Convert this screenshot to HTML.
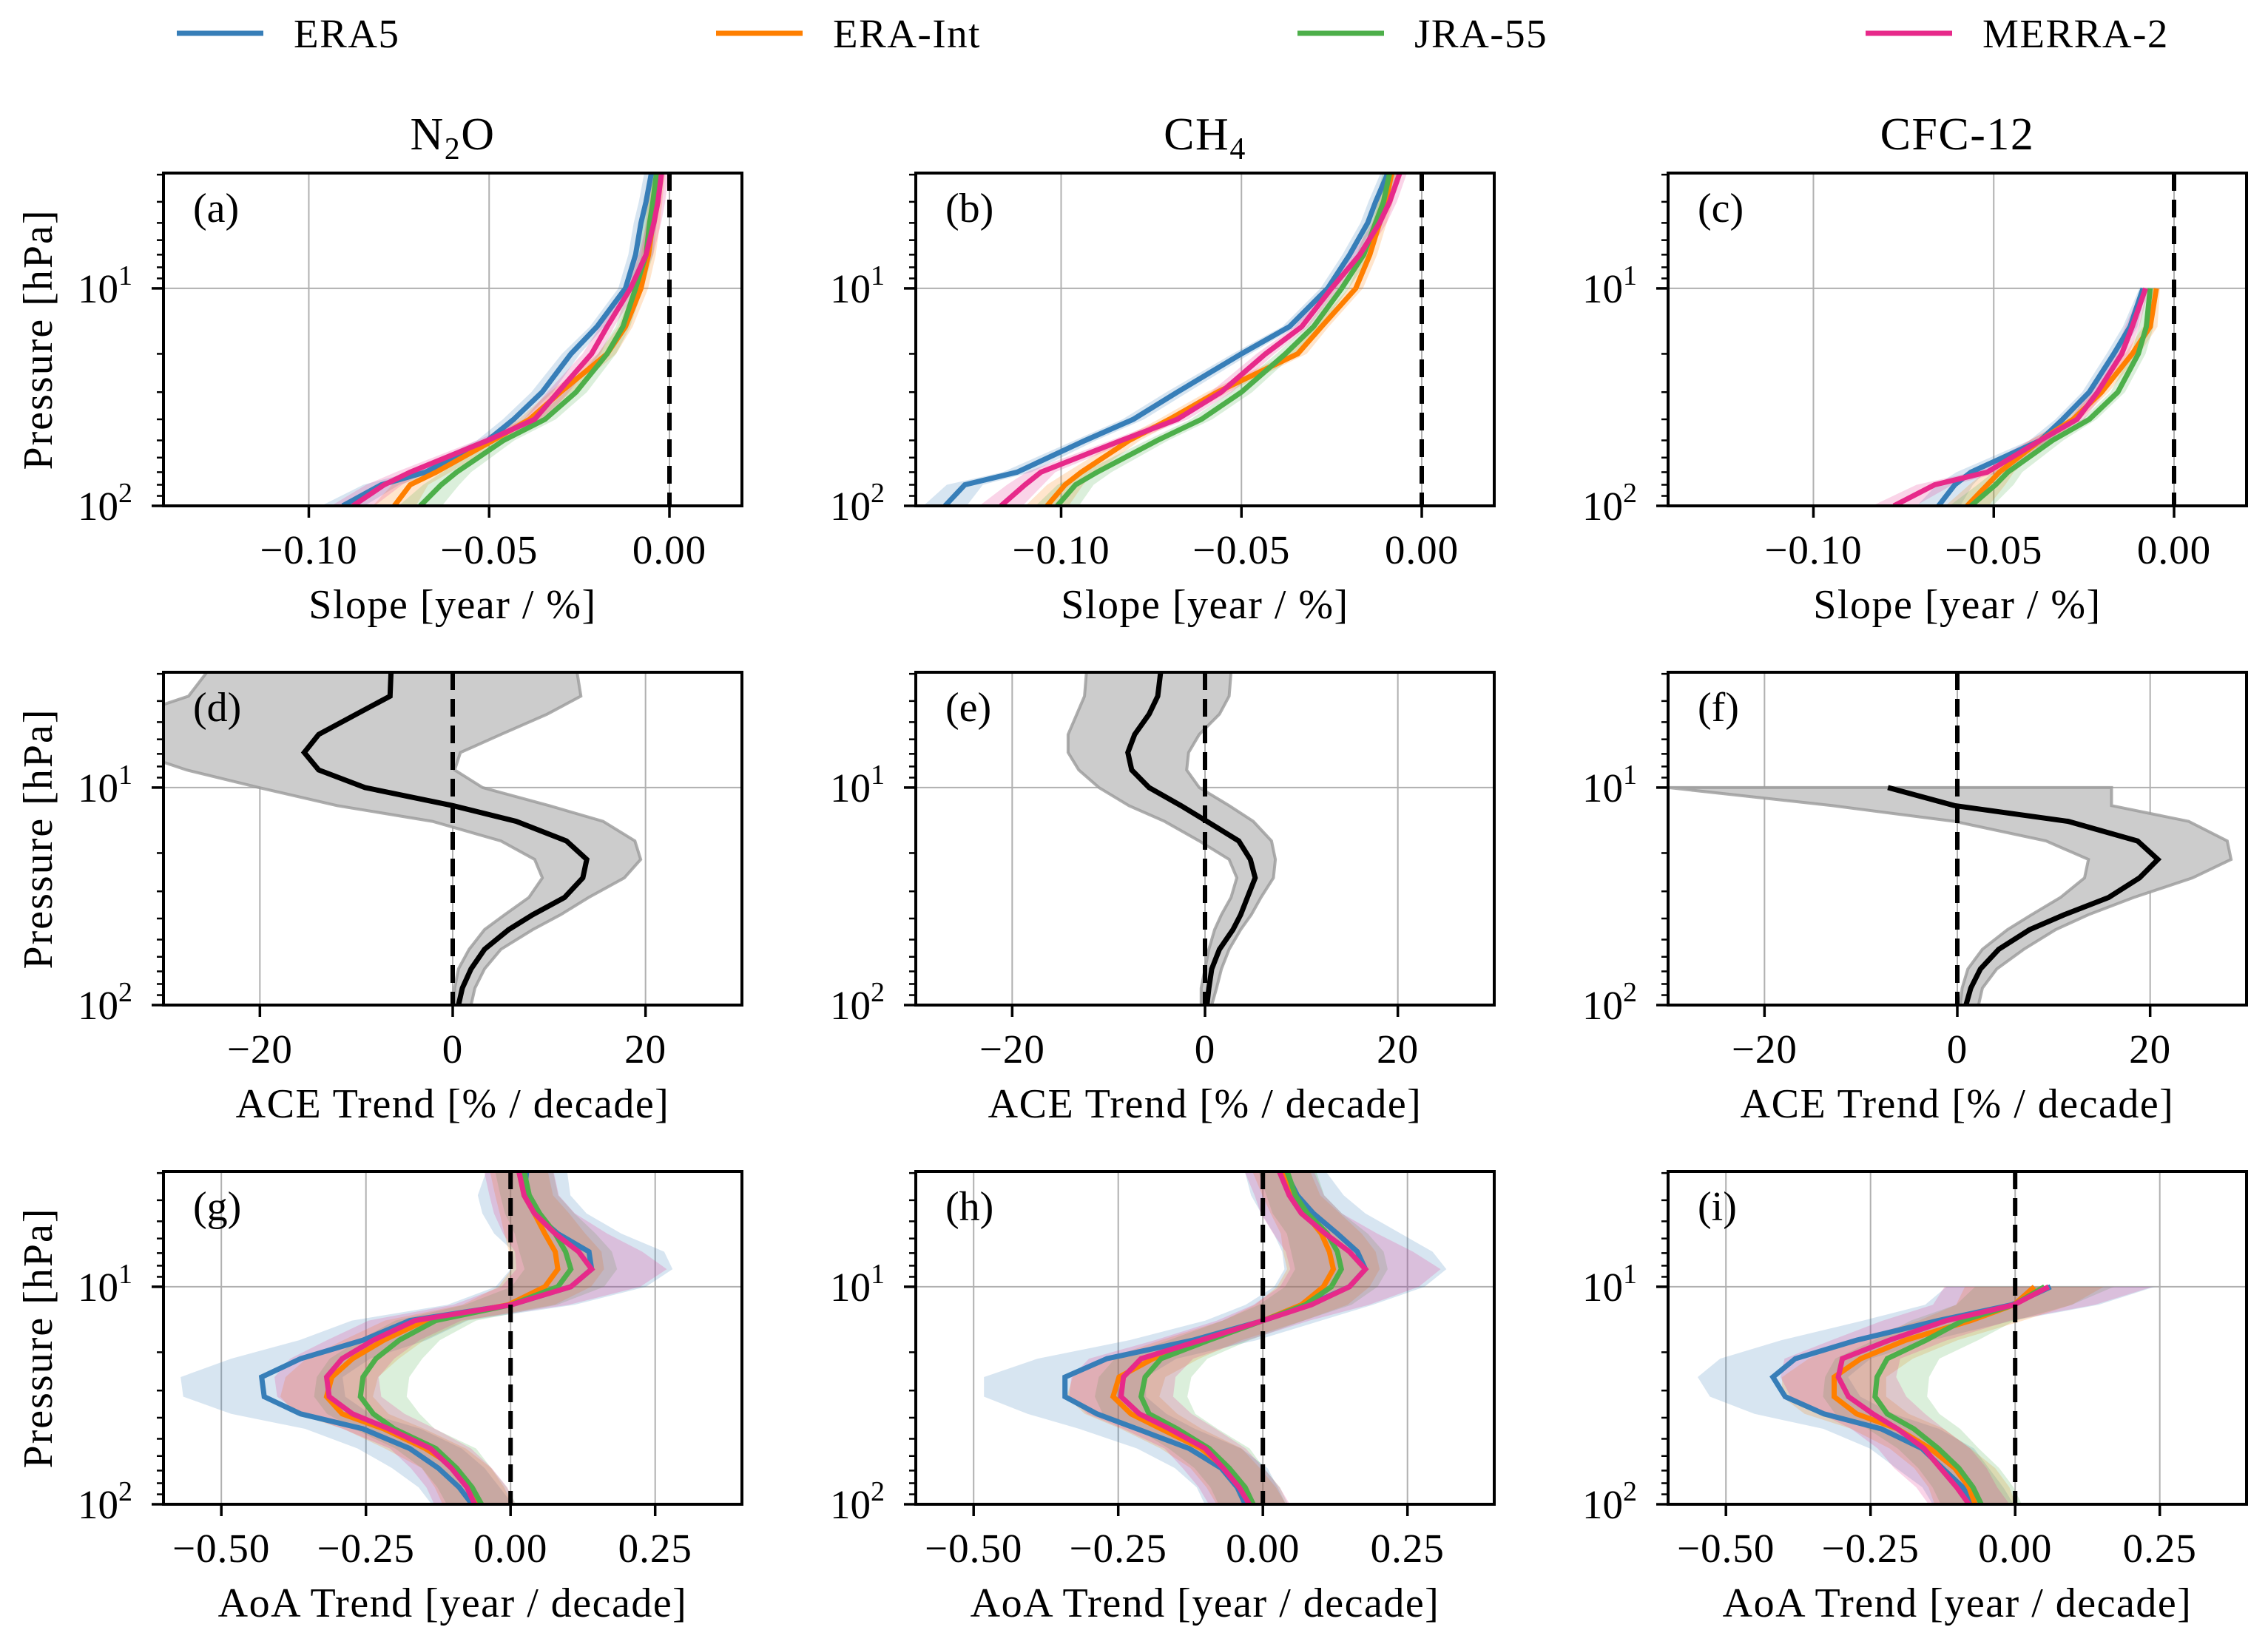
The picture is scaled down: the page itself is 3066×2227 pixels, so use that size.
<!DOCTYPE html>
<html><head><meta charset="utf-8">
<style>
html,body{margin:0;padding:0;background:#fff;}
svg{display:block;font-family:"Liberation Serif","DejaVu Serif",serif;}
</style></head>
<body>
<svg id="fig" width="3066" height="2227" viewBox="0 0 3066 2227" xmlns="http://www.w3.org/2000/svg"></svg>
<script>
// ---------- data ----------
const seriesNames = ["ERA5","ERA-Int","JRA-55","MERRA-2"];
const seriesColors = ["#377eb8","#ff7f00","#4daf4a","#e7298a"];
const columnTitles = ["N2O","CH4","CFC-12"];
const panelLetters = ["(a)","(b)","(c)","(d)","(e)","(f)","(g)","(h)","(i)"];

const levelsSlope = [2.95,4,5,7,10,15,20,30,40,50,70,80,100];
const levelsSlopeC = [10,15,20,30,40,50,70,80,100];
const levelsTrend = [2.95,3.8,4.6,5.7,6.9,8.3,10,12.1,14.3,17.6,21.4,26,32,38.4,45,55.4,68.2,83.6,100];
const levelsTrendLow = [10,12.1,14.3,17.6,21.4,26,32,38.4,45,55.4,68.2,83.6,100];

const slopeTicks = [-0.10,-0.05,0.00];
const slopeTickLabels = ["\u22120.10","\u22120.05","0.00"];
const aceTicks = [-20,0,20];
const aceTickLabels = ["\u221220","0","20"];
const aoaTicks = [-0.5,-0.25,0,0.25];
const aoaTickLabels = ["\u22120.50","\u22120.25","0.00","0.25"];

// (a) N2O slope
const slopeA_era5 = [-0.005,-0.0065,-0.0079,-0.0094,-0.0122,-0.0201,-0.0273,-0.0353,-0.0432,-0.0504,-0.0676,-0.0799,-0.0906];
const slopeA_erai = [-0.0032,-0.004,-0.0046,-0.0058,-0.0079,-0.0122,-0.0173,-0.0302,-0.0388,-0.0489,-0.0647,-0.0719,-0.0763];
const slopeA_jra = [-0.0036,-0.0046,-0.0055,-0.0065,-0.0094,-0.0129,-0.0173,-0.0259,-0.0345,-0.046,-0.059,-0.0633,-0.0691];
const slopeA_merra = [-0.0022,-0.0032,-0.0043,-0.0065,-0.0108,-0.0173,-0.0216,-0.0309,-0.0374,-0.0504,-0.0719,-0.0791,-0.0878];
// (b) CH4 slope
const slopeB_era5 = [-0.0094,-0.0128,-0.015,-0.020,-0.0261,-0.0367,-0.050,-0.0678,-0.080,-0.0933,-0.1122,-0.1267,-0.1322];
const slopeB_erai = [-0.0083,-0.010,-0.0117,-0.0144,-0.0183,-0.0278,-0.0344,-0.0567,-0.070,-0.0811,-0.0944,-0.0989,-0.1039];
const slopeB_jra = [-0.0089,-0.0106,-0.0128,-0.0161,-0.0222,-0.030,-0.0378,-0.050,-0.0611,-0.0733,-0.090,-0.096,-0.1011];
const slopeB_merra = [-0.0061,-0.0089,-0.0117,-0.0172,-0.025,-0.0333,-0.0433,-0.0556,-0.0678,-0.0833,-0.1056,-0.110,-0.1167];
// (c) CFC-12 slope
const slopeC_era5 = [-0.0086,-0.0122,-0.0167,-0.0235,-0.0309,-0.0371,-0.0563,-0.0608,-0.0653];
const slopeC_erai = [-0.0049,-0.0066,-0.0116,-0.0201,-0.028,-0.0371,-0.0484,-0.0518,-0.0574];
const slopeC_jra = [-0.0066,-0.0077,-0.0099,-0.0156,-0.0235,-0.0337,-0.0461,-0.0495,-0.0563];
const slopeC_merra = [-0.0079,-0.0116,-0.0145,-0.0212,-0.0269,-0.0371,-0.0518,-0.0664,-0.0777];
const slopeErr = [0.002,0.002,0.002,0.002,0.002,0.002,0.0025,0.003,0.003,0.003,0.004,0.005,0.006];
const slopeErrC = [0.001,0.002,0.002,0.002,0.002,0.003,0.004,0.005,0.006];

// (d)(e)(f) ACE trends
const aceD_mean = [-6.4,-6.5,-10.0,-13.9,-15.4,-13.9,-9.1,0,6.6,11.8,13.9,13.5,11.6,8.3,5.8,3.3,1.9,1.0,0.6];
const aceD_low = [-25.5,-27.4,-33,-34,-33,-27.6,-20.1,-12,-2.1,5.0,8.5,9.3,7.9,5.4,3.3,1.7,0.6,0.2,0.2];
const aceD_high = [12.9,13.3,9.8,5.0,0.8,0.2,3.1,10,15.6,18.9,19.5,17.8,14.1,11.2,8.3,5.0,3.3,2.3,1.9];
const aceE_mean = [-4.6,-4.9,-5.8,-7.3,-8.0,-7.6,-5.8,-2.5,0.2,3.5,4.7,5.2,4.4,3.7,2.9,1.5,0.7,0.4,0.2];
const aceE_low = [-12.3,-12.5,-13.3,-14.2,-14.2,-13.1,-11.0,-7.9,-4.2,-0.6,2.5,3.3,2.7,1.7,1.0,0.4,0,-0.4,-0.4];
const aceE_high = [2.7,2.5,1.5,-0.6,-1.7,-1.9,-0.6,2.5,5.0,6.9,7.3,7.1,5.8,4.8,3.7,2.5,1.7,1.2,0.7];
const aceF_mean = [-7.2,-0.3,11.5,18.7,20.8,18.9,15.7,11.1,7.5,4.3,2.4,1.4,0.9];
const aceF_low = [-30,-13,-0.3,9.2,13.6,13.2,10.7,7.7,5.2,2.6,1.1,0.5,0.3];
const aceF_high = [16.0,16.0,24.0,28.0,28.4,24.4,18.3,13.6,10.2,6.9,4.1,2.6,2.2];

// (g)(h)(i) AoA trends
const aoaG_era5 = [.0278,.0234,.0413,.0817,.1356,.1401,.1042,.0009,-.1743,-.2551,-.3629,-.4303,-.4258,-.3629,-.2551,-.1743,-.1249,-.0889,-.0665];
const aoaG_erai = [.0144,.0234,.0413,.0593,.0772,.0817,.0593,-.0036,-.1473,-.2192,-.2731,-.3090,-.3180,-.2910,-.2192,-.1473,-.0934,-.0710,-.0575];
const aoaG_jra = [.0234,.0323,.0503,.0772,.0952,.1042,.0817,.0009,-.1294,-.1923,-.2327,-.2551,-.2596,-.2372,-.2012,-.1294,-.0934,-.0665,-.0503];
const aoaG_merra = [.0144,.0234,.0413,.0772,.1177,.1401,.1042,.0009,-.1653,-.2372,-.2910,-.3180,-.3135,-.2731,-.2102,-.1383,-.1024,-.0755,-.0620];
const aoaH_era5 = [.0388,.0596,.0873,.1288,.1634,.1773,.1496,.0803,.0007,-.1205,-.2694,-.3421,-.3421,-.2867,-.2175,-.1274,-.072,-.0443,-.0305];
const aoaH_erai = [.0319,.0492,.0734,.1011,.1150,.1219,.1046,.0665,.0007,-.1066,-.1898,-.2486,-.2590,-.2279,-.1759,-.1066,-.0651,-.0374,-.0201];
const aoaH_jra = [.0422,.0561,.0768,.1115,.1288,.1357,.1184,.0734,.0007,-.0928,-.1759,-.2036,-.2105,-.1967,-.1482,-.0928,-.0582,-.0305,-.0166];
const aoaH_merra = [.0284,.0457,.0665,.1080,.1496,.1773,.1496,.0838,.0007,-.1066,-.2105,-.2410,-.2451,-.2133,-.1614,-.0997,-.0686,-.0409,-.0235];
const aoaI_era5 = [.0614,-.0056,-.1328,-.2740,-.3800,-.4188,-.3976,-.3305,-.2316,-.1610,-.1257,-.0904,-.0727];
const aoaI_erai = [.0332,-.0021,-.0763,-.1893,-.2669,-.3129,-.3129,-.2740,-.2034,-.1469,-.1045,-.0798,-.0692];
const aoaI_jra = [.0508,-.0021,-.0904,-.1540,-.2211,-.2387,-.2422,-.2211,-.1752,-.1328,-.0975,-.0727,-.0586];
const aoaI_merra = [.0579,-.0021,-.1186,-.2175,-.2987,-.3058,-.2881,-.2458,-.2034,-.1575,-.1292,-.1010,-.0798];
const aoaErr_era5 = [.07,.08,.09,.11,.13,.14,.13,.11,.10,.11,.12,.14,.14,.12,.10,.09,.08,.07,.07];
const aoaErr_erai = [.05,.05,.06,.07,.08,.08,.08,.08,.07,.07,.08,.08,.08,.08,.07,.07,.06,.06,.06];
const aoaErr_jra = [.05,.05,.06,.07,.08,.08,.08,.08,.07,.07,.08,.08,.08,.08,.07,.07,.06,.06,.06];
const aoaErr_merra = [.06,.06,.07,.09,.11,.13,.12,.10,.08,.08,.09,.09,.09,.09,.08,.07,.07,.07,.07];
const aoaErrI_era5 = [.18,.15,.13,.13,.13,.13,.13,.12,.10,.09,.08,.07,.07];
const aoaErrI_erai = [.12,.10,.09,.09,.09,.09,.09,.09,.08,.07,.07,.07,.07];
const aoaErrI_jra = [.12,.10,.09,.09,.09,.09,.09,.09,.08,.07,.07,.07,.07];
const aoaErrI_merra = [.18,.14,.11,.10,.10,.10,.10,.09,.08,.08,.08,.07,.07];

// ---------- layout ----------
const NS = "http://www.w3.org/2000/svg";
const svg = document.getElementById("fig");
const colLeft = [221, 1238, 2255];
const rowTop = [234, 909, 1584];
const PW = 782, PH = 450;
const logTop = Math.log10(2.95), logBot = 2;

function mk(tag, attrs, parent) {
  const e = document.createElementNS(NS, tag);
  for (const k in attrs) e.setAttribute(k, attrs[k]);
  (parent || svg).appendChild(e);
  return e;
}

function makePanel(idx, row, col, xmin, xmax, ticks, tickLabels, xlabel, drawFn) {
  const L = colLeft[col], T = rowTop[row];
  const xs = v => L + (v - xmin) / (xmax - xmin) * PW;
  const ys = p => T + (Math.log10(p) - logTop) / (logBot - logTop) * PH;
  const g = mk("g", {});
  
  
  const cid = "clip" + idx;
  const cp = mk("clipPath", {id: cid}, g);
  mk("rect", {x: L, y: T, width: PW, height: PH}, cp);
  ticks.forEach(t => {
    const gl = mk("line", {x1: xs(t), x2: xs(t), y1: T, y2: T + PH, stroke: "#b0b0b0", "stroke-width": 2}, g);
    
    
  });
  const hg = mk("line", {x1: L, x2: L + PW, y1: ys(10), y2: ys(10), stroke: "#b0b0b0", "stroke-width": 2}, g);
  
  
  const plot = mk("g", {"clip-path": "url(#" + cid + ")"}, g);
  
  
  drawFn(plot, xs, ys);
  const z = mk("line", {x1: xs(0), x2: xs(0), y1: T, y2: T + PH, stroke: "#000", "stroke-width": 6, "stroke-dasharray": "24 12"}, plot);
  
  
  const sp = mk("rect", {x: L, y: T, width: PW, height: PH, fill: "none", stroke: "#000", "stroke-width": 4}, g);
  
  
  ticks.forEach((t, i) => {
    const tk = mk("line", {x1: xs(t), x2: xs(t), y1: T + PH, y2: T + PH + 16, stroke: "#000", "stroke-width": 3.5}, g);
    
    
    const tl = mk("text", {x: xs(t), y: T + PH + 78, "text-anchor": "middle", "font-size": 55, "letter-spacing": 1}, g);
    tl.textContent = tickLabels[i];
    
    
  });
  [3,4,5,6,7,8,9,20,30,40,50,60,70,80,90].forEach(p => {
    const tk = mk("line", {x1: L - 9, x2: L, y1: ys(p), y2: ys(p), stroke: "#000", "stroke-width": 2.5}, g);
    
    
  });
  [[10, "1"], [100, "2"]].forEach(([p, e]) => {
    const tk = mk("line", {x1: L - 16, x2: L, y1: ys(p), y2: ys(p), stroke: "#000", "stroke-width": 3.5}, g);
    
    
    const tl = mk("text", {x: L - 42, y: ys(p) + 19, "text-anchor": "end", "font-size": 55}, g);
    
    
    const base = mk("tspan", {}, tl); base.textContent = "10";
    const sup = mk("tspan", {dy: -24, "font-size": 38}, tl); sup.textContent = e;
  });
  const pl = mk("text", {x: L + 40, y: T + 66, "font-size": 56}, g);
  pl.textContent = panelLetters[idx];
  
  
  const xl = mk("text", {x: L + PW / 2, y: T + PH + 152, "text-anchor": "middle", "font-size": 56, "letter-spacing": 1.5}, g);
  xl.textContent = xlabel;
  
  
  if (col === 0) {
    const yl = mk("text", {x: 0, y: 0, "text-anchor": "middle", "font-size": 56, "letter-spacing": 2, transform: "translate(70," + (T + PH / 2) + ") rotate(-90)"}, g);
    yl.textContent = "Pressure [hPa]";
    
    
  }
}

function pathD(xsArr, levels, xs, ys) {
  return levels.map((p, i) => (i ? "L" : "M") + xs(xsArr[i]).toFixed(1) + "," + ys(p).toFixed(1)).join("");
}
function bandD(lo, hi, levels, xs, ys) {
  let d = levels.map((p, i) => (i ? "L" : "M") + xs(lo[i]).toFixed(1) + "," + ys(p).toFixed(1)).join("");
  for (let i = levels.length - 1; i >= 0; i--) d += "L" + xs(hi[i]).toFixed(1) + "," + ys(levels[i]).toFixed(1);
  return d + "Z";
}

function drawReanalysis(seriesList, errList, levels, alpha) {
  return function (plot, xs, ys) {
    seriesList.forEach((s, k) => {
      const lo = s.map((v, i) => v - errList[k][i]);
      const hi = s.map((v, i) => v + errList[k][i]);
      const b = mk("path", {d: bandD(lo, hi, levels, xs, ys), fill: seriesColors[k], "fill-opacity": alpha, stroke: "none"}, plot);
      
      
    });
    seriesList.forEach((s, k) => {
      const l = mk("path", {d: pathD(s, levels, xs, ys), fill: "none", stroke: seriesColors[k], "stroke-width": 7, "stroke-linejoin": "miter"}, plot);
      
      
    });
  };
}
function drawAce(mean, lo, hi, levels) {
  return function (plot, xs, ys) {
    const b = mk("path", {d: bandD(lo, hi, levels, xs, ys), fill: "#cccccc", stroke: "#9a9a9a", "stroke-width": 4, "stroke-opacity": 0.8}, plot);
    
    
    const l = mk("path", {d: pathD(mean, levels, xs, ys), fill: "none", stroke: "#000", "stroke-width": 7}, plot);
    
    
  };
}
const rep = a => [a, a, a, a];

const slopeLabel = "Slope [year / %]";
const aceLabel = "ACE Trend [% / decade]";
const aoaLabel = "AoA Trend [year / decade]";

makePanel(0, 0, 0, -0.1403, 0.0201, slopeTicks, slopeTickLabels, slopeLabel,
  drawReanalysis([slopeA_era5, slopeA_erai, slopeA_jra, slopeA_merra], rep(slopeErr), levelsSlope, 0.2));
makePanel(1, 0, 1, -0.1403, 0.0201, slopeTicks, slopeTickLabels, slopeLabel,
  drawReanalysis([slopeB_era5, slopeB_erai, slopeB_jra, slopeB_merra], rep(slopeErr), levelsSlope, 0.2));
makePanel(2, 0, 2, -0.1403, 0.0201, slopeTicks, slopeTickLabels, slopeLabel,
  drawReanalysis([slopeC_era5, slopeC_erai, slopeC_jra, slopeC_merra], rep(slopeErrC), levelsSlopeC, 0.2));
makePanel(3, 1, 0, -30, 30, aceTicks, aceTickLabels, aceLabel, drawAce(aceD_mean, aceD_low, aceD_high, levelsTrend));
makePanel(4, 1, 1, -30, 30, aceTicks, aceTickLabels, aceLabel, drawAce(aceE_mean, aceE_low, aceE_high, levelsTrend));
makePanel(5, 1, 2, -30, 30, aceTicks, aceTickLabels, aceLabel, drawAce(aceF_mean, aceF_low, aceF_high, levelsTrendLow));
makePanel(6, 2, 0, -0.6, 0.4, aoaTicks, aoaTickLabels, aoaLabel,
  drawReanalysis([aoaG_era5, aoaG_erai, aoaG_jra, aoaG_merra], [aoaErr_era5, aoaErr_erai, aoaErr_jra, aoaErr_merra], levelsTrend, 0.2));
makePanel(7, 2, 1, -0.6, 0.4, aoaTicks, aoaTickLabels, aoaLabel,
  drawReanalysis([aoaH_era5, aoaH_erai, aoaH_jra, aoaH_merra], [aoaErr_era5, aoaErr_erai, aoaErr_jra, aoaErr_merra], levelsTrend, 0.2));
makePanel(8, 2, 2, -0.6, 0.4, aoaTicks, aoaTickLabels, aoaLabel,
  drawReanalysis([aoaI_era5, aoaI_erai, aoaI_jra, aoaI_merra], [aoaErrI_era5, aoaErrI_erai, aoaErrI_jra, aoaErrI_merra], levelsTrendLow, 0.2));

columnTitles.forEach((t, c) => {
  const tx = mk("text", {x: colLeft[c] + PW / 2, y: 202, "text-anchor": "middle", "font-size": 62, "letter-spacing": 1.5});
  
  
  const m = t.match(/^([A-Za-z]+)(\d)(.*)$/);
  if (m && c < 2) {
    const a = mk("tspan", {}, tx); a.textContent = m[1];
    const b = mk("tspan", {dy: 13, "font-size": 42}, tx); b.textContent = m[2];
    const d = mk("tspan", {dy: -13}, tx); d.textContent = m[3];
  } else {
    tx.textContent = t;
  }
});

const legendLineX = [239, 968, 1754, 2522];
legendLineX.forEach((x, k) => {
  const g = mk("g", {});
  
  
  const l = mk("line", {x1: x, x2: x + 117, y1: 45, y2: 45, stroke: seriesColors[k], "stroke-width": 7}, g);
  
  
  const t = mk("text", {x: x + 158, y: 64, "font-size": 55, "letter-spacing": 1.5}, g);
  t.textContent = seriesNames[k];
  
  
});
</script>
</body></html>
